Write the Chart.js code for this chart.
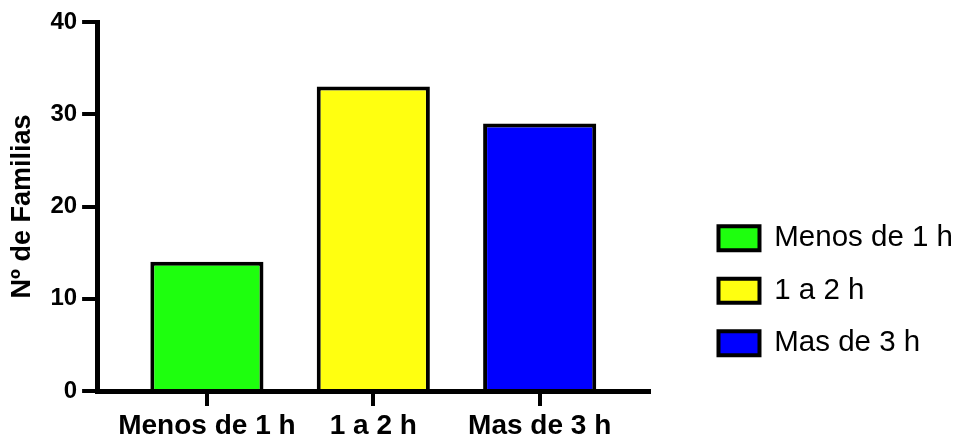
<!DOCTYPE html>
<html>
<head>
<meta charset="utf-8">
<script src="https://cdn.jsdelivr.net/npm/chart.js@4"></script>
<style>
  html, body { margin: 0; padding: 0; background: #fff; }
</style>
</head>
<body>
<canvas id="horas" width="963" height="436"></canvas>
<script>
// Data
const categories = ['Menos de 1 h', '1 a 2 h', 'Mas de 3 h'];
const familias = [14, 33, 29];
const barColors = ['#1eff0e', '#ffff10', '#0000ff'];
const yTickValues = [0, 10, 20, 30, 40];

const FONT = '"Liberation Sans", Arial, Helvetica, sans-serif';

// One dataset per category so each gets a legend entry
const datasets = categories.map((label, i) => ({
  label,
  data: [{ x: i, y: familias[i] }],
  backgroundColor: barColors[i],
  borderColor: '#000',
  borderWidth: 4,
  grouped: false,
  barPercentage: 0.68,
  categoryPercentage: 1
}));

// the layout caps a side legend at a quarter of the width; let it be wider
const wideLegend = {
  id: 'wideLegend',
  beforeLayout(chart) {
    const lg = chart.legend;
    if (lg && !lg._wide) {
      const fit = lg.fit;
      lg.fit = function() { this.maxWidth = 320; fit.call(this); };
      lg._wide = true;
    }
  }
};

new Chart(document.getElementById('horas').getContext('2d'), {
  type: 'bar',
  data: { datasets },
  plugins: [wideLegend],
  options: {
    responsive: false,
    animation: false,
    layout: { padding: { top: 22, left: 2, right: 0, bottom: 0 } },
    plugins: {
      tooltip: { enabled: false },
      legend: {
        position: 'right',
        align: 'start',
        // empty title used only to push the entries down
        title: { display: true, text: '', padding: { top: 164, bottom: 0 }, font: { size: 12 } },
        labels: {
          boxWidth: 41,
          boxHeight: 24,
          padding: 23,
          color: '#000',
          font: { family: FONT, size: 29.5 }
        }
      }
    },
    scales: {
      x: {
        type: 'linear',
        min: -0.66,
        max: 2.66,
        offset: false,
        afterBuildTicks: s => { s.ticks = categories.map((c, i) => ({ value: i })); },
        afterFit: s => { s.height = 45; },
        ticks: {
          callback: v => categories[v],
          color: '#000',
          font: { family: FONT, size: 28, weight: 'bold', lineHeight: 0.63 },
          padding: 11,
          maxRotation: 0,
          autoSkip: false
        },
        grid: { offset: false, drawOnChartArea: false, drawTicks: true, tickLength: 15, color: '#000', lineWidth: 4 },
        border: { display: true, color: '#000', width: 5 }
      },
      y: {
        min: 0,
        max: 40,
        afterBuildTicks: s => { s.ticks = yTickValues.map(v => ({ value: v })); },
        ticks: {
          color: '#000',
          font: { family: FONT, size: 24, weight: 'bold' },
          padding: 5
        },
        grid: { drawOnChartArea: false, drawTicks: true, tickLength: 15, color: '#000', lineWidth: 4 },
        border: { display: true, color: '#000', width: 5 },
        title: {
          display: true,
          text: 'Nº de Familias',
          color: '#000',
          font: { family: FONT, size: 27, weight: 'bold' },
          padding: { top: 4, bottom: 7 }
        }
      },
      // blank axis that keeps the gap between the plot and the legend
      gap: {
        type: 'linear',
        position: 'right',
        display: true,
        grid: { display: false },
        border: { display: false },
        ticks: { display: false },
        afterFit: s => { s.width = 46; }
      }
    }
  }
});
</script>
</body>
</html>
